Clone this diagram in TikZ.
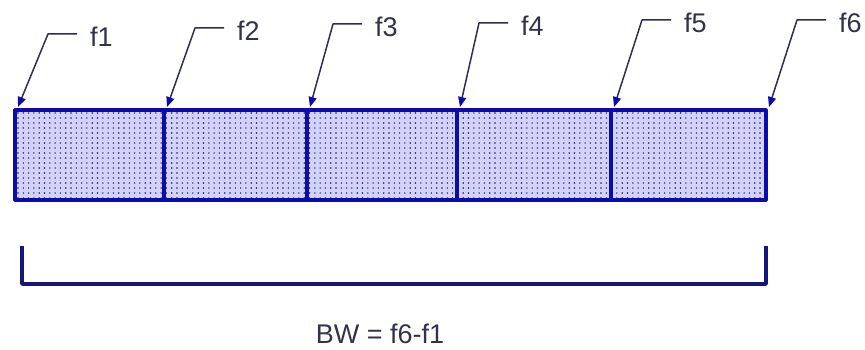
\documentclass[tikz,border=0pt]{standalone}
\usepackage{fontspec}
\setmainfont{Liberation Sans}
\usetikzlibrary{arrows.meta,positioning}
\definecolor{edgeblue}{RGB}{12,12,170}
\definecolor{bandfill}{RGB}{210,210,252}
\definecolor{dotblue}{RGB}{25,25,110}
\definecolor{leadgray}{RGB}{45,45,85}
\definecolor{bracketblue}{RGB}{22,22,120}
\definecolor{textgray}{RGB}{50,50,75}
\tikzset{
	edge/.style={draw=edgeblue, line width=3.2pt},
	leader/.style={draw=leadgray, line width=1.5pt, -{Triangle[length=10pt,width=8pt,fill=edgeblue,color=edgeblue]}},
	flabel/.style={text=textgray, inner sep=0pt, font=\fontsize{27}{30}\selectfont},
	bracket/.style={draw=bracketblue, line width=3.4pt, line cap=butt}
}
\begin{document}
\begin{tikzpicture}[x=1pt, y=-1pt, line join=round]
			\useasboundingbox (0,0) rectangle (865,350);
			
			% dotted band
			\fill[bandfill] (15,110) rectangle (766,200);
			\foreach \r in {0,...,17} {
				\foreach \c in {0,...,140} {
					\fill[dotblue] (18+\c*5.3, 113+\r*5) circle (0.8pt);
				}
			}
			\foreach \x in {164,307,457,611} {
				\draw[edge] (\x,110) -- (\x,200);
			}
			\draw[edge] (15,110) rectangle (766,200);
			
			% frequency labels
			\foreach \i/\tx/\cx/\cy in {1/18/48/34, 2/167/195/28, 3/310/333/24, 4/460/479/23, 5/614/642/20, 6/769/797/20} {
				\coordinate (t\i) at (\tx,107);
				\coordinate (c\i) at (\cx,\cy);
				\coordinate (e\i) at (\cx+29,\cy);
				\node[flabel, anchor=west, right=13pt of e\i, yshift=-3pt] (f\i) {f\i};
				\draw[leader] (e\i) -- (c\i) -- (t\i);
			}
			
			% bandwidth bracket
			\coordinate (bl) at (22,246);
			\coordinate (br) at (766,246);
			\draw[bracket] (bl) -- (22,284) -- (766,284) -- (br);
			\node[flabel] (bw) at (380,334) {BW = f6-f1};
		\end{tikzpicture}
\end{document}
